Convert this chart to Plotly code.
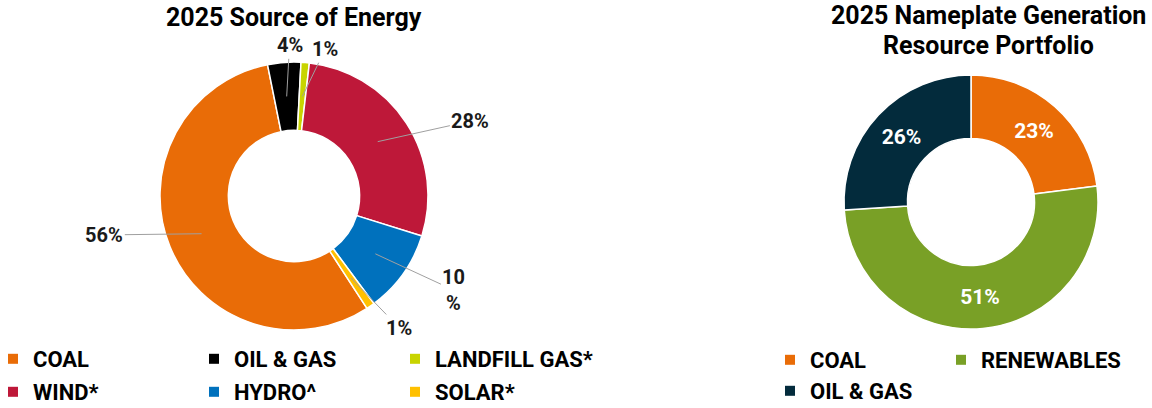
import math
import plotly.graph_objects as go

# ---------------- data ----------------
src_title = "2025 Source of Energy"
src_labels = ["COAL", "OIL & GAS", "LANDFILL GAS*", "WIND*", "HYDRO^", "SOLAR*"]
src_values = [56, 4, 1, 28, 10, 1]
src_text = ["56%", "4%", "1%", "28%", "10<br>%", "1%"]
src_colors = ["#E96C07", "#000000", "#C8D400", "#BE1839", "#0071BD", "#FFC000"]

port_title = ["2025 Nameplate Generation", "Resource Portfolio"]
port_labels = ["COAL", "RENEWABLES", "OIL & GAS"]
port_values = [23, 51, 26]
port_colors = ["#E96C07", "#79A026", "#032B3C"]

# ---------------- layout / style ----------------
# body margin is removed (see post_script), so the figure fills the window
OX, OY = 0, 0
FW, FH = 1152, 408
FONT = "Roboto"


def px(x):
    return (x - OX) / FW


def py(y):
    return 1 - (y - OY) / FH


L_cx, L_cy, L_R, L_hole = 294, 196, 134, 0.49
R_cx, R_cy, R_R, R_hole = 971, 202, 127, 0.50
L_rot = 147.0   # start angle of first slice (clockwise from 12 o'clock)
R_rot = 0.0

# label placement (multiples of radius, angular nudge in degrees)
lab_r = [1.445, 1.125, 1.12, 1.43, 1.385, 1.26]
lab_dang = [10.6, 2.5, 7.2, 10.0, -4.9, -3.8]


def dom(cx, cy, r):
    return dict(x=[px(cx - r), px(cx + r)], y=[py(cy + r), py(cy - r)])


fig = go.Figure()

fig.add_trace(go.Pie(
    labels=src_labels, values=src_values, sort=False, direction="clockwise",
    rotation=L_rot, hole=L_hole, domain=dom(L_cx, L_cy, L_R),
    marker=dict(colors=src_colors, line=dict(color="white", width=1.5)),
    textinfo="none", showlegend=False, hoverinfo="label+percent",
))

fig.add_trace(go.Pie(
    labels=port_labels, values=port_values, sort=False, direction="clockwise",
    rotation=R_rot, hole=R_hole, domain=dom(R_cx, R_cy, R_R),
    marker=dict(colors=port_colors, line=dict(color="white", width=1.5)),
    texttemplate="%{value}%", textposition="inside", insidetextorientation="horizontal",
    insidetextfont=dict(family=FONT, size=21, color="white", weight=700),
    showlegend=False, hoverinfo="label+percent",
))

# legend entries (dummy traces so the legend can be laid out in rows)
legend_rows_left = [src_labels[:3], src_labels[3:]]
legend_rows_right = [port_labels[:2], port_labels[2:]]
for li, row in zip(["legend", "legend2"], legend_rows_left):
    for lab in row:
        c = src_colors[src_labels.index(lab)]
        fig.add_trace(go.Scatter(x=[None], y=[None], mode="markers", name=lab,
                                 marker=dict(symbol="square", size=10, color=c),
                                 legend=li, showlegend=True, hoverinfo="skip"))
for li, row in zip(["legend3", "legend4"], legend_rows_right):
    for lab in row:
        c = port_colors[port_labels.index(lab)]
        fig.add_trace(go.Scatter(x=[None], y=[None], mode="markers", name=lab,
                                 marker=dict(symbol="square", size=10, color=c),
                                 legend=li, showlegend=True, hoverinfo="skip"))

# outside labels with leader lines for the left donut (computed from the values)
total = sum(src_values)
ang = L_rot
r_anchor = L_R * (1 + L_hole) / 2
annotations = []
for i, v in enumerate(src_values):
    span = 360.0 * v / total
    mid = ang + span / 2
    ang += span
    t = math.radians(mid)
    axp = L_cx + r_anchor * math.sin(t)
    ayp = L_cy - r_anchor * math.cos(t)
    t2 = math.radians(mid + lab_dang[i])
    lx = L_cx + lab_r[i] * L_R * math.sin(t2)
    ly = L_cy - lab_r[i] * L_R * math.cos(t2)
    annotations.append(dict(
        x=px(axp), y=py(ayp), xref="paper", yref="paper",
        ax=lx - axp, ay=ly - ayp, axref="pixel", ayref="pixel",
        text=src_text[i], showarrow=True, arrowhead=0, arrowwidth=1,
        arrowcolor="#A0A0A0", standoff=0, startstandoff=0,
        font=dict(family=FONT, size=20, color="#1a1a1a", weight=700),
    ))

# titles
annotations.append(dict(x=px(L_cx), y=py(18), xref="paper", yref="paper",
                        text=src_title, showarrow=False, xanchor="center", yanchor="middle",
                        font=dict(family=FONT, size=25, color="#000", weight=700)))
for k, line in enumerate(port_title):
    annotations.append(dict(x=px(988), y=py(16 + 29 * k), xref="paper", yref="paper",
                            text=line, showarrow=False, xanchor="center", yanchor="middle",
                            font=dict(family=FONT, size=25, color="#000", weight=700)))

leg_common = dict(orientation="h", xanchor="left", yanchor="middle", xref="paper", yref="paper",
                  font=dict(family=FONT, size=22, color="#000", weight=700),
                  bgcolor="rgba(0,0,0,0)", itemclick=False, itemdoubleclick=False,
                  tracegroupgap=0, indentation=-15)

fig.update_layout(
    width=FW, height=FH, margin=dict(l=0, r=0, t=0, b=0, autoexpand=False),
    paper_bgcolor="white", plot_bgcolor="white",
    xaxis=dict(visible=False), yaxis=dict(visible=False),
    annotations=annotations,
    legend=dict(leg_common, x=px(8), y=py(359), entrywidth=171),
    legend2=dict(leg_common, x=px(8), y=py(392), entrywidth=171),
    legend3=dict(leg_common, x=px(785), y=py(360), entrywidth=141),
    legend4=dict(leg_common, x=px(785), y=py(391), entrywidth=141),
    showlegend=True,
)

fig.write_html("out.html", config={"displayModeBar": False},
               post_script="document.body.style.margin='0px';document.body.style.overflow='hidden';")
